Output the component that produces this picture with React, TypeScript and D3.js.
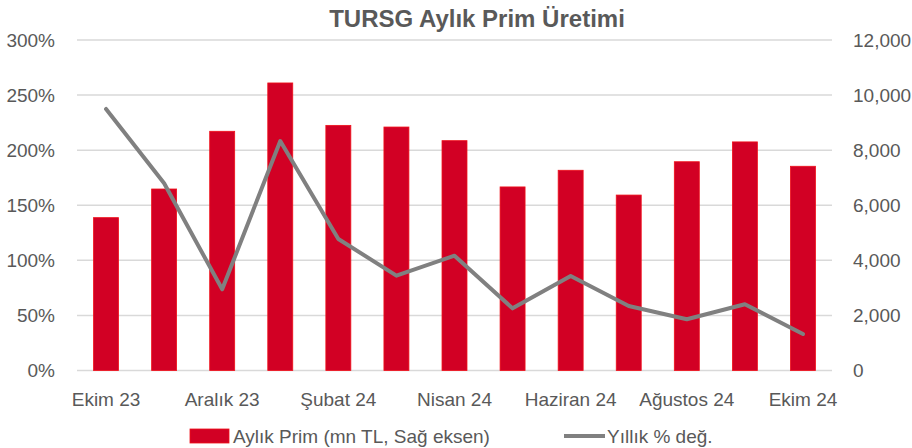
import React from "react";
import * as d3 from "d3";

const months = [
  "Ekim 23", "Kasım 23", "Aralık 23", "Ocak 24", "Şubat 24", "Mart 24", "Nisan 24",
  "Mayıs 24", "Haziran 24", "Temmuz 24", "Ağustos 24", "Eylül 24", "Ekim 24",
];
const premium = [5550, 6590, 8685, 10440, 8900, 8840, 8345, 6665, 7270, 6370, 7580, 8300, 7415];
const yoyPct = [237.4, 169.9, 73.7, 208.3, 119.4, 86.1, 104.2, 56.4, 85.8, 58.5, 46.5, 60.1, 33.1];
const leftTicks = [0, 50, 100, 150, 200, 250, 300];
const rightTicks = [0, 2000, 4000, 6000, 8000, 10000, 12000];
const title = "TURSG Aylık Prim Üretimi";
const barLabel = "Aylık Prim (mn TL, Sağ eksen)";
const lineLabel = "Yıllık % değ.";

const W = 912, H = 448;
const left = 77, right = 832, top = 40, bottom = 370.5;
const FONT = "'Liberation Sans', Arial, sans-serif";
const TXT = "#595959";

export default function App() {
  const x = d3.scaleBand<string>().domain(months).range([left, right]).paddingInner(0.57).paddingOuter(0.285);
  const yL = d3.scaleLinear().domain([0, 300]).range([bottom, top]);
  const yR = d3.scaleLinear().domain([0, 12000]).range([bottom, top]);
  const line = d3.line<number>()
    .x((_, i) => (x(months[i]) as number) + x.bandwidth() / 2)
    .y((d) => yL(d));
  const fmtR = d3.format(",");

  return (
    <svg width={W} height={H} style={{ position: "absolute", left: 0, top: 0, background: "#fff" }} fontFamily={FONT}>
      <text x={477} y={27} textAnchor="middle" fontSize={24} fontWeight="bold" fill={TXT}>{title}</text>
      {leftTicks.map((t) => (
        <line key={"g" + t} x1={left} x2={right} y1={yL(t)} y2={yL(t)} stroke="#D9D9D9" strokeWidth={1.5} />
      ))}
      {leftTicks.map((t) => (
        <text key={"l" + t} x={55} y={yL(t)} dy="0.35em" textAnchor="end" fontSize={19} fill={TXT}>{t + "%"}</text>
      ))}
      {rightTicks.map((t) => (
        <text key={"r" + t} x={853} y={yR(t)} dy="0.35em" textAnchor="start" fontSize={19} fill={TXT}>{fmtR(t)}</text>
      ))}
      {premium.map((v, i) => (
        <rect key={"b" + i} x={x(months[i])} y={yR(v)} width={x.bandwidth()} height={bottom - yR(v)}
          fill="#D20024" stroke="#F0101A" strokeWidth={0.8} />
      ))}
      <path d={line(yoyPct) || ""} fill="none" stroke="#808080" strokeWidth={4} strokeLinejoin="round" strokeLinecap="round" />
      {months.map((m, i) => i % 2 === 0 ? (
        <text key={"x" + i} x={(x(m) as number) + x.bandwidth() / 2} y={406} textAnchor="middle" fontSize={19} fill={TXT}>{m}</text>
      ) : null)}
      <rect x={190} y={429} width={39} height={14} fill="#D20024" stroke="#F0101A" strokeWidth={0.8} />
      <text x={233} y={443} fontSize={19} fill={TXT}>{barLabel}</text>
      <line x1={564} x2={605} y1={436} y2={436} stroke="#808080" strokeWidth={4} />
      <text x={607} y={443} fontSize={19} fill={TXT}>{lineLabel}</text>
    </svg>
  );
}
